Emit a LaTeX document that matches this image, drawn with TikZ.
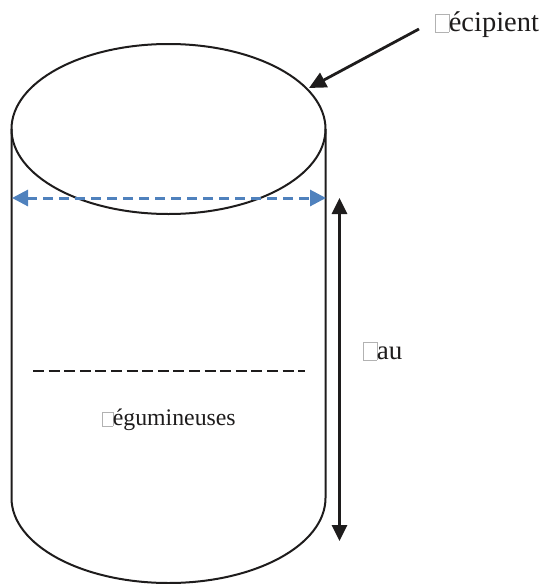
\documentclass[tikz,border=0pt]{standalone}
\usepackage{fontspec}
\setmainfont{Liberation Serif}
\usetikzlibrary{arrows.meta}
\definecolor{bluearrow}{RGB}{79,129,189}
\definecolor{inkline}{RGB}{30,28,28}
\newcommand{\missingglyph}[2]{\textcolor{gray!60}{\fboxsep=0pt\fboxrule=0.6pt\fbox{\rule{0pt}{#2}\hspace{#1}}}\hspace{-0.6pt}}
\tikzset{
  outline/.style={draw=inkline,line width=2pt},
  labeltext/.style={inner sep=0pt,anchor=base west,text=inkline},
  pointer/.style={draw=inkline,line width=2.8pt,-{Triangle[length=17pt,width=16pt]}},
  span/.style={draw=inkline,line width=2.7pt,{Triangle[length=16pt,width=15pt]}-{Triangle[length=16pt,width=15pt]}},
  widthspan/.style={draw=bluearrow,line width=3pt,dash pattern=on 10pt off 6pt,{Triangle[length=16pt,width=16pt]}-{Triangle[length=16pt,width=16pt]}},
  level/.style={draw=inkline,line width=2.7pt,dash pattern=on 11pt off 4.6pt}
}
\begin{document}
\begin{tikzpicture}[x=1pt,y=-1pt]
\useasboundingbox (0,0) rectangle (546,584);
\draw[outline] (168.5,129) ellipse [x radius=157, y radius=85];
\draw[outline] (11.5,129) -- (11.5,498) arc [start angle=180, end angle=360, x radius=157, y radius=-85] -- (325.5,129);
\node[labeltext,font=\fontsize{28.5}{30}\selectfont] (recipient) at (435,31.5) {\missingglyph{13pt}{17pt}écipient};
\coordinate (recipientTail) at (419,29);
\coordinate (rim) at (309,88);
\draw[pointer] (recipientTail) -- (rim);
\coordinate (wl) at (12,198);
\coordinate (wr) at (326,198);
\draw[widthspan] (wl) -- (wr);
\coordinate (ht) at (339.5,198);
\coordinate (hb) at (339.5,541);
\draw[span] (ht) -- (hb);
\coordinate (ll) at (33,371);
\coordinate (lr) at (305,371);
\draw[level] (ll) -- (lr);
\node[labeltext,font=\fontsize{27}{29}\selectfont] (eau) at (363,359.5) {\missingglyph{13pt}{17pt}au};
\node[labeltext,font=\fontsize{23.8}{26}\selectfont] (leg) at (102,425.5) {\missingglyph{10pt}{13pt}égumineuses};
\end{tikzpicture}
\end{document}
